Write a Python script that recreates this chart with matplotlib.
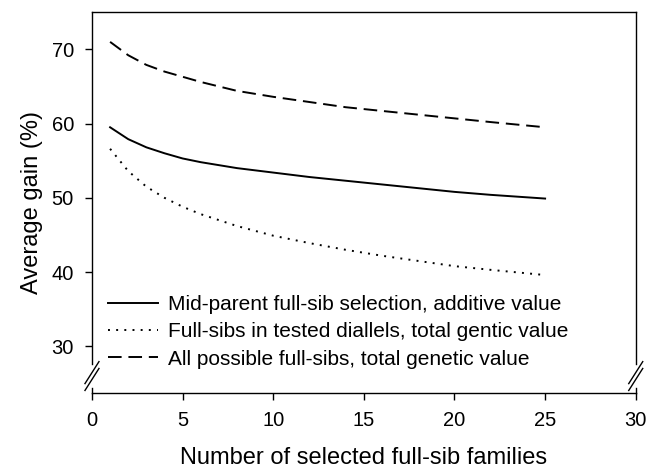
import matplotlib
matplotlib.use("Agg")
import matplotlib.pyplot as plt
import numpy as np

# values
n_families = [1, 2, 3, 4, 5, 6, 8, 10, 12, 14, 16, 18, 20, 22, 25]
mid_parent = [59.5, 57.9, 56.8, 56.0, 55.3, 54.8, 54.0, 53.4, 52.8, 52.3, 51.8, 51.3, 50.8, 50.4, 49.9]
tested_diallels = [56.6, 53.6, 51.5, 50.0, 48.8, 47.8, 46.2, 44.9, 43.9, 43.0, 42.2, 41.5, 40.8, 40.3, 39.6]
all_possible = [71.0, 69.2, 67.9, 67.0, 66.3, 65.6, 64.4, 63.6, 62.9, 62.2, 61.7, 61.2, 60.7, 60.2, 59.5]

series_labels = [
    "Mid-parent full-sib selection, additive value",
    "Full-sibs in tested diallels, total gentic value",
    "All possible full-sibs, total genetic value",
]
x_ticks = [0, 5, 10, 15, 20, 25, 30]
y_ticks = [30, 40, 50, 60, 70]

plt.rcParams.update({
    "font.family": ["Liberation Sans", "DejaVu Sans"],
    "axes.linewidth": 1.0,
    "xtick.major.size": 5,
    "ytick.major.size": 5,
    "xtick.major.width": 1.0,
    "ytick.major.width": 1.0,
})

YMIN, YMAX = 23.7, 75.0
GAP_LO, GAP_HI = 24.4, 27.6

fig = plt.figure(figsize=(6.65, 4.68), dpi=100)
ax = fig.add_axes([0.1383, 0.160, 0.8177, 0.814])

ax.plot(n_families, mid_parent, color="black", lw=1.4, ls="-", label=series_labels[0])
ax.plot(n_families, tested_diallels, color="black", lw=1.4, ls=(0, (1, 3.2)), label=series_labels[1])
ax.plot(n_families, all_possible, color="black", lw=1.4, ls=(0, (7, 3.5)), label=series_labels[2])

ax.set_xlim(0, 30)
ax.set_ylim(YMIN, YMAX)
ax.set_xticks(x_ticks)
ax.set_yticks(y_ticks)
ax.tick_params(labelsize=14.5, direction="out", pad=8)

# broken y axis on both sides
for side in ["left", "right"]:
    ax.spines[side].set_bounds(GAP_HI, YMAX)
for xv in [0, 30]:
    ax.plot([xv, xv], [YMIN, GAP_LO], color="black", lw=1.0, clip_on=False)
ycen = (26.0 - YMIN) / (YMAX - YMIN)
hw, hh = 7 / 544, 11 / 381
for xa in [0.0, 1.0]:
    for off in [-0.009, 0.009]:
        ax.plot([xa - hw, xa + hw], [ycen + off - hh, ycen + off + hh],
                color="black", lw=1.0, transform=ax.transAxes, clip_on=False)
ax.tick_params(axis="y", right=False)

ax.set_xlabel("Number of selected full-sib families", fontsize=17, labelpad=12)
ax.set_ylabel("Average gain (%)", fontsize=17, labelpad=6)

leg = ax.legend(loc="lower left", bbox_to_anchor=(0.014, 0.042), frameon=False,
                fontsize=15, handlelength=2.4, handletextpad=0.5, labelspacing=0.4,
                borderaxespad=0)

fig.savefig("out.png", dpi=100)
